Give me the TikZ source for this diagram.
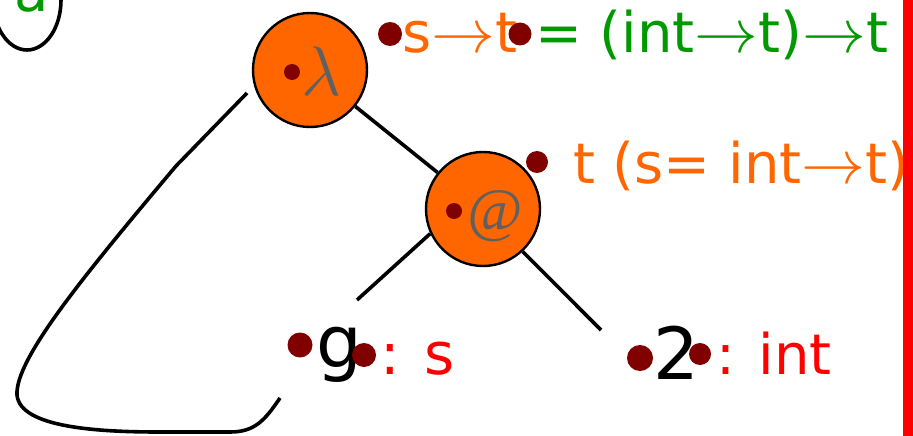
\RequirePackage{fix-cm}
\documentclass[tikz,border=0pt]{standalone}
\usepackage{fontspec}
\setmainfont{DejaVu Sans}
\newfontfamily\atserif{Liberation Serif}
\usetikzlibrary{positioning,shapes.geometric}
\definecolor{lamorange}{HTML}{FF6600}
\definecolor{agreen}{HTML}{009900}
\definecolor{dotred}{HTML}{800000}
\definecolor{tred}{HTML}{FF0000}
\definecolor{symgray}{HTML}{606060}
\newcommand{\tyarr}{\scalebox{1.14}[1.1]{$\rightarrow$}}

\begin{document}
\begin{tikzpicture}[x=1pt, y=-1pt,
  vtx/.style={circle, draw, line width=2.4pt, fill=lamorange, minimum size=114pt, inner sep=0pt},
  dotm/.style={circle, fill=dotred, inner sep=0pt, minimum size=#1},
  edge/.style={line width=3.6pt},
  txt/.style={inner sep=0pt, anchor=base west, font=\fontsize{#1}{#1}\selectfont},
  sym/.style={inner sep=0pt, text=symgray, font=\fontsize{#1}{#1}\selectfont}]
\useasboundingbox (0,0) rectangle (913,436);
% cut-off annotation in the corner
\node[ellipse, draw, line width=3.6pt, minimum width=68pt, minimum height=100pt] (aell) at (27,0) {};
\node[txt=56, text=agreen] (atxt) at (14,12) {a};
% tree
\node[vtx] (lam) at (310,70) {};
\node[vtx] (app) at (483,209) {};
\node[sym=70] (lamsym) at (321,71) {$\lambda$};
\node[sym=60] (appsym) at (495,216) {\atserif\itshape @};
\coordinate (gtop) at (357,300);
\coordinate (ntop) at (601,330);
\coordinate (loopst) at (247,93);
\coordinate (loopend) at (280,398);
\draw[edge] (lam) -- (app);
\draw[edge] (app.205) -- (gtop);
\draw[edge] (app.-47) -- (ntop);
\draw[edge] (loopst) -- (176,166) .. controls (80,280) and (15,360) .. (17,395)
  .. controls (20,428) and (100,432) .. (160,432) -- (230,432)
  .. controls (255,432) and (265,420) .. (loopend);
% leaves and types
\node[txt=72] (gvar) at (316,367) {g};
\node[txt=58, text=tred] (gtype) at (380,374) {: s};
\node[txt=72] (nlit) at (653,379) {2};
\node[txt=56, text=tred] (ntype) at (716,374) {: int};
\node[txt=56, text=lamorange] (stype) at (402,53) {s\tyarr t};
\node[txt=56, text=agreen] (ftype) at (535,53) {= (int\tyarr t)\tyarr t};
\node[txt=56, text=lamorange] (ttype) at (573,183) {t (s= int\tyarr t)};
% dots
\node[dotm=16pt] (lamdot) at (292,72) {};
\node[dotm=16pt] (appdot) at (454,211) {};
\node[dotm=24pt] (sdot) at (390,34) {};
\node[dotm=23pt] (fdot) at (520,34) {};
\node[dotm=22pt] (tdot) at (537,162) {};
\node[dotm=25pt] (gdot) at (300,345) {};
\node[dotm=24pt] (gsdot) at (364,355) {};
\node[dotm=26pt] (ndot) at (640,358) {};
\node[dotm=22pt] (nidot) at (700,354) {};
\fill[tred] (903,0) rectangle (913,436);
\end{tikzpicture}
\end{document}
